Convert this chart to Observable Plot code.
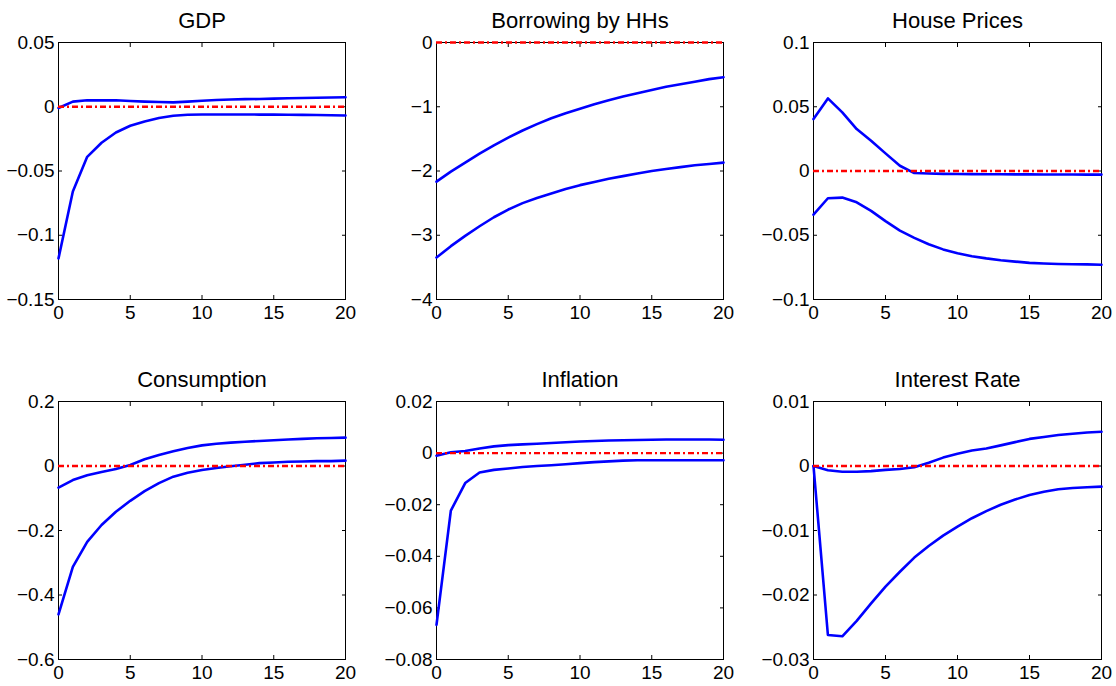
<!DOCTYPE html>
<html>
<head>
<meta charset="utf-8">
<script src="https://cdn.jsdelivr.net/npm/d3@7"></script>
<script src="https://cdn.jsdelivr.net/npm/@observablehq/plot@0.6"></script>
<style>
  body { margin: 0; background: #ffffff; }
  #grid { position: relative; width: 1116px; height: 686px; background: #ffffff; }
  #grid > div { position: absolute; }
</style>
</head>
<body>
<div id="grid"></div>
<script>
// Horizons
const horizon = [0,1,2,3,4,5,6,7,8,9,10,11,12,13,14,15,16,17,18,19,20];
const xTicks = [0, 5, 10, 15, 20];

// Panel titles
const titles = ["GDP", "Borrowing by HHs", "House Prices", "Consumption", "Inflation", "Interest Rate"];

// Y tick labels per panel
const gdpTicks = [-0.15, -0.1, -0.05, 0, 0.05];
const borrowTicks = [-4, -3, -2, -1, 0];
const houseTicks = [-0.1, -0.05, 0, 0.05, 0.1];
const consTicks = [-0.6, -0.4, -0.2, 0, 0.2];
const inflTicks = [-0.08, -0.06, -0.04, -0.02, 0, 0.02];
const rateTicks = [-0.03, -0.02, -0.01, 0, 0.01];

// Series values (upper and lower bands)
const gdpUpper = [-0.001,0.004,0.005,0.005,0.005,0.0045,0.004,0.0037,0.0034,0.004,0.0047,0.0052,0.0057,0.0059,0.006,0.0063,0.0066,0.0068,0.007,0.0072,0.0074];
const gdpLower = [-0.118,-0.066,-0.039,-0.028,-0.020,-0.0148,-0.0114,-0.0088,-0.0070,-0.0062,-0.0060,-0.0060,-0.0060,-0.0060,-0.0061,-0.0061,-0.0062,-0.0063,-0.0064,-0.0066,-0.0068];

const borrowUpper = [-2.166,-2.01,-1.87,-1.73,-1.60,-1.48,-1.37,-1.27,-1.18,-1.10,-1.03,-0.96,-0.90,-0.84,-0.79,-0.74,-0.69,-0.65,-0.61,-0.57,-0.54];
const borrowLower = [-3.347,-3.17,-3.01,-2.86,-2.72,-2.60,-2.50,-2.42,-2.35,-2.28,-2.22,-2.17,-2.12,-2.08,-2.04,-2.00,-1.97,-1.94,-1.91,-1.89,-1.87];

const houseUpper = [0.0404,0.0565,0.0456,0.0326,0.0236,0.0137,0.0041,-0.0016,-0.002,-0.0022,-0.0023,-0.0024,-0.0025,-0.0025,-0.0026,-0.0026,-0.0027,-0.0027,-0.0027,-0.0028,-0.0028];
const houseLower = [-0.034,-0.0212,-0.0207,-0.0244,-0.031,-0.039,-0.0464,-0.052,-0.057,-0.061,-0.064,-0.0663,-0.068,-0.0694,-0.0705,-0.0715,-0.072,-0.0724,-0.0726,-0.0727,-0.0729];

const consUpper = [-0.067,-0.0435,-0.029,-0.0186,-0.0093,0.003,0.0207,0.034,0.0455,0.056,0.064,0.069,0.0725,0.075,0.0776,0.080,0.082,0.084,0.086,0.087,0.088];
const consLower = [-0.46,-0.313,-0.235,-0.183,-0.142,-0.108,-0.078,-0.053,-0.033,-0.021,-0.0124,-0.006,-0.001,0.004,0.009,0.011,0.013,0.014,0.015,0.015,0.0166];

const inflUpper = [-0.001,0.0003,0.0008,0.0018,0.0026,0.0031,0.0034,0.0036,0.0039,0.0042,0.0045,0.0047,0.0049,0.005,0.0051,0.0052,0.0053,0.0053,0.0053,0.0053,0.0052];
const inflLower = [-0.0666,-0.0223,-0.0116,-0.0075,-0.0065,-0.006,-0.0054,-0.005,-0.0047,-0.0043,-0.0039,-0.0035,-0.0032,-0.0029,-0.0028,-0.0028,-0.0028,-0.0028,-0.0028,-0.0028,-0.0028];

const rateUpper = [0,-0.00067,-0.00088,-0.00088,-0.0008,-0.0006,-0.00047,-0.0002,0.0005,0.0013,0.0019,0.0024,0.0027,0.0032,0.0037,0.0042,0.0045,0.0048,0.005,0.0052,0.0053];
const rateLower = [0,-0.0262,-0.0264,-0.024,-0.0213,-0.0187,-0.0164,-0.0142,-0.0124,-0.0108,-0.0094,-0.0081,-0.007,-0.006,-0.0052,-0.0045,-0.004,-0.0036,-0.0034,-0.0033,-0.0032];

const panels = [
  {title: titles[0], ticks: gdpTicks, upper: gdpUpper, lower: gdpLower},
  {title: titles[1], ticks: borrowTicks, upper: borrowUpper, lower: borrowLower},
  {title: titles[2], ticks: houseTicks, upper: houseUpper, lower: houseLower},
  {title: titles[3], ticks: consTicks, upper: consUpper, lower: consLower},
  {title: titles[4], ticks: inflTicks, upper: inflUpper, lower: inflLower},
  {title: titles[5], ticks: rateTicks, upper: rateUpper, lower: rateLower}
];

// Layout (cell size and plot-area margins per column / row)
const cellW = 372, cellH = 343;
const colMargins = [{l: 58, r: 27}, {l: 64, r: 21}, {l: 69, r: 15}];
const rowMargins = [{t: 42, b: 44}, {t: 58, b: 27}];

const fmt = d => {
  const s = String(Math.abs(+d.toFixed(8)));
  return d < 0 ? "\u2212" + s : s;
};

const grid = document.getElementById("grid");

panels.forEach((p, i) => {
  const col = i % 3, row = Math.floor(i / 3);
  const cm = colMargins[col], rm = rowMargins[row];
  const rows = band => horizon.map((h, j) => ({h, v: band[j]}));
  const yDomain = [p.ticks[0], p.ticks[p.ticks.length - 1]];
  const chart = Plot.plot({
    width: cellW,
    height: cellH,
    marginLeft: cm.l,
    marginRight: cm.r,
    marginTop: rm.t,
    marginBottom: rm.b,
    x: {domain: [0, 20], label: null},
    y: {domain: yDomain, label: null},
    style: {fontFamily: "'Liberation Sans', Arial, Helvetica, sans-serif", fontSize: "19px", color: "black", background: "white", overflow: "visible"},
    marks: [
      Plot.frame({stroke: "black", strokeWidth: 1}),
      Plot.axisX(xTicks, {anchor: "bottom", tickSize: 0, tickPadding: 6, tickFormat: fmt, label: null, fontSize: 19}),
      Plot.axisX(xTicks, {anchor: "bottom", tickSize: -4, fill: "none", label: null}),
      Plot.axisX(xTicks, {anchor: "top", tickSize: -4, fill: "none", label: null}),
      Plot.axisY(p.ticks, {anchor: "left", tickSize: 0, tickPadding: 4, tickFormat: fmt, label: null, fontSize: 19}),
      Plot.axisY(p.ticks, {anchor: "left", tickSize: -4, fill: "none", label: null}),
      Plot.axisY(p.ticks, {anchor: "right", tickSize: -4, fill: "none", label: null}),
      Plot.line(rows(p.upper), {x: "h", y: "v", stroke: "#0000ff", strokeWidth: 2.6}),
      Plot.line(rows(p.lower), {x: "h", y: "v", stroke: "#0000ff", strokeWidth: 2.6}),
      Plot.ruleY([0], {stroke: "#ff0000", strokeWidth: 2.3, strokeDasharray: "6,3,2,3"}),
      Plot.text([p.title], {text: d => d, frameAnchor: "top", dy: -15, lineAnchor: "bottom", fontSize: 22, fill: "black"})
    ]
  });
  const holder = document.createElement("div");
  holder.style.left = (col * cellW) + "px";
  holder.style.top = (row * cellH) + "px";
  holder.appendChild(chart);
  grid.appendChild(holder);
});
</script>
</body>
</html>
